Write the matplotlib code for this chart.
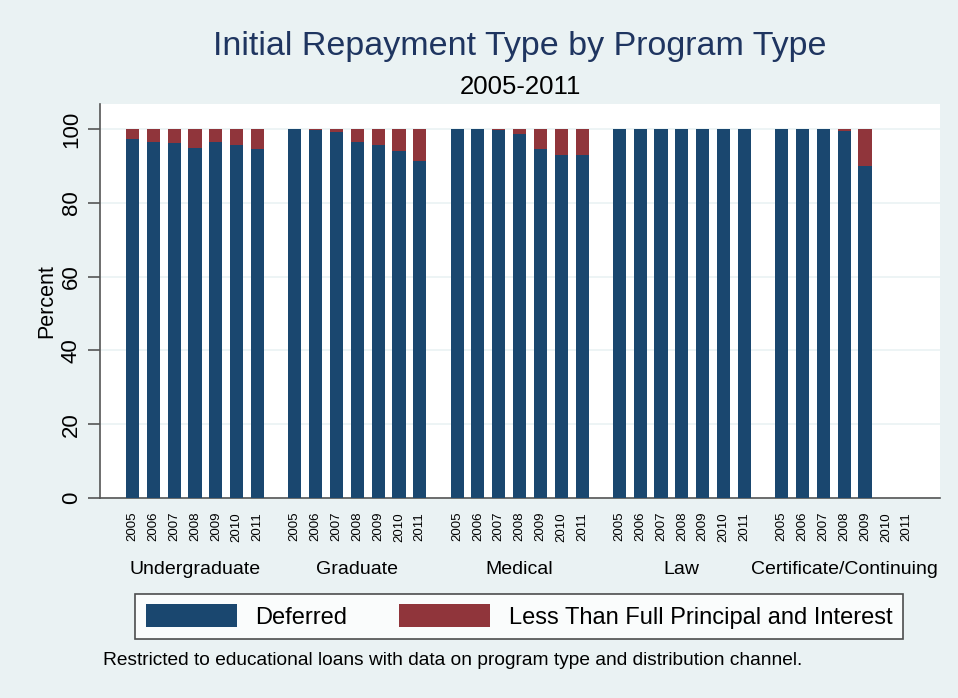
import numpy as np
import matplotlib
matplotlib.use("Agg")
import matplotlib.pyplot as plt
from matplotlib.patches import Patch

plt.rcParams['font.family'] = ['Liberation Sans', 'DejaVu Sans']

groups = ['Undergraduate', 'Graduate', 'Medical', 'Law', 'Certificate/Continuing']
years = ['2005', '2006', '2007', '2008', '2009', '2010', '2011']

# percent deferred; the rest is "less than full P&I"
deferred_ug = [97.2, 96.6, 96.2, 94.9, 96.6, 95.7, 94.6]
deferred_grad = [99.9, 99.7, 99.2, 96.6, 95.7, 94.0, 91.3]
deferred_med = [100.0, 100.0, 99.8, 98.6, 94.6, 93.0, 93.0]
deferred_law = [100.0, 100.0, 100.0, 100.0, 100.0, 100.0, 100.0]
deferred_cert = [100.0, 100.0, 100.0, 99.5, 90.1, np.nan, np.nan]
less_ug = [2.8, 3.4, 3.8, 5.1, 3.4, 4.3, 5.4]
less_grad = [0.1, 0.3, 0.8, 3.4, 4.3, 6.0, 8.7]
less_med = [0.0, 0.0, 0.2, 1.4, 5.4, 7.0, 7.0]
less_law = [0.0, 0.0, 0.0, 0.0, 0.0, 0.0, 0.0]
less_cert = [0.0, 0.0, 0.0, 0.5, 9.9, np.nan, np.nan]

deferred = [deferred_ug, deferred_grad, deferred_med, deferred_law, deferred_cert]
less = [less_ug, less_grad, less_med, less_law, less_cert]

navy = '#1a476f'
maroon = '#90353b'
bg = '#eaf2f3'

fig = plt.figure(figsize=(9.58, 6.98), dpi=100)
fig.patch.set_facecolor(bg)
ax = fig.add_axes([0.1044, 0.2865, 0.8768, 0.5645])
ax.set_facecolor('white')

period = 7.79
width = 0.63
xs = []
for g in range(len(groups)):
    x = g * period + np.arange(len(years))
    xs.append(x)
    ax.bar(x, deferred[g], width, color=navy, zorder=3)
    ax.bar(x, less[g], width, bottom=deferred[g], color=maroon, zorder=3)

allx = np.concatenate(xs)
ax.set_xlim(allx[0] - 1.56, allx[-1] + 1.6)
ax.set_ylim(0, 106.8)
ax.set_yticks([0, 20, 40, 60, 80, 100])
ax.set_yticklabels(['0', '20', '40', '60', '80', '100'], rotation=90, va='center', fontsize=16)
ax.tick_params(axis='y', length=9, width=1.2, color='#555555', pad=4)
ax.grid(axis='y', color=bg, linewidth=1.2, zorder=0)
ax.set_ylabel('Percent', fontsize=15.5, labelpad=3)

ax.set_xticks(allx)
ax.set_xticklabels(years * len(groups), rotation=90, fontsize=9.5)
ax.tick_params(axis='x', length=0, pad=10)

for g, name in enumerate(groups):
    ax.text(xs[g].mean(), -19.4, name, ha='center', va='center', fontsize=14,
            transform=ax.transData)

for s in ['top', 'right']:
    ax.spines[s].set_visible(False)
for s in ['left', 'bottom']:
    ax.spines[s].set_color('#555555')
    ax.spines[s].set_linewidth(1.2)

fig.text(0.543, 0.934, 'Initial Repayment Type by Program Type', ha='center', va='center',
         fontsize=24.5, color='#1f3560')
fig.text(0.543, 0.876, '2005-2011', ha='center', va='center', fontsize=18.5)

handles = [Patch(facecolor=navy), Patch(facecolor=maroon)]
leg = fig.legend(handles, ['Deferred', 'Less Than Full Principal and Interest'],
                 loc='center', bbox_to_anchor=(0.542, 0.1168), ncol=2, fontsize=17,
                 frameon=True, fancybox=False, handlelength=3.85, handleheight=1.1,
                 columnspacing=2.2, handletextpad=0.8, borderpad=0.45)
leg.get_frame().set_edgecolor('#222222')
leg.get_frame().set_linewidth(1.2)

fig.text(0.108, 0.054, 'Restricted to educational loans with data on program type and distribution channel.',
         ha='left', va='center', fontsize=13.8)

fig.savefig('out.png', dpi=100, facecolor=bg)
